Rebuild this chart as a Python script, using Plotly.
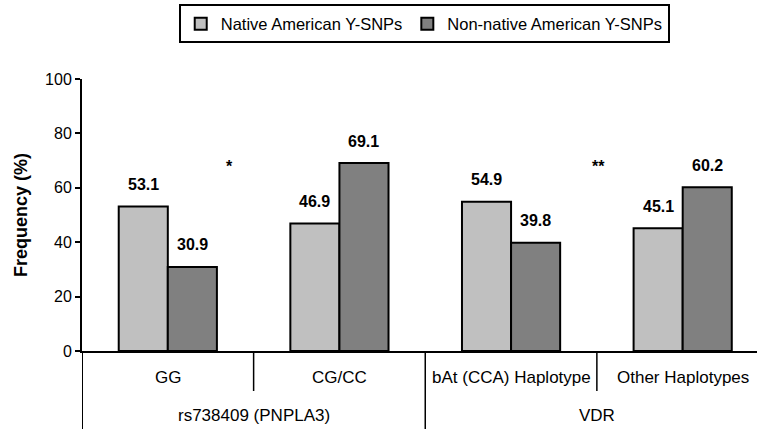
import plotly.graph_objects as go

# Genotype / haplotype groups and their parent markers
categories = ["GG", "CG/CC", "bAt (CCA) Haplotype", "Other Haplotypes"]
groups = ["rs738409 (PNPLA3)", "VDR"]
group_spans = [(0, 1), (2, 3)]  # category indices covered by each group

native = [53.1, 46.9, 54.9, 45.1]
non_native = [30.9, 69.1, 39.8, 60.2]

series_names = ["Native American Y-SNPs", "Non-native American Y-SNPs"]
series_colors = ["#c0c0c0", "#808080"]

# significance markers: (x position in category units, label)
significance = [(0.36, "*"), (2.51, "**")]

y_ticks = [0, 20, 40, 60, 80, 100]

FONT = "Liberation Sans, Arial, sans-serif"
BARGAP = 0.428
bar_w = (1 - BARGAP) / 2

xs = list(range(len(categories)))

fig = go.Figure()
for name, vals, col in zip(series_names, [native, non_native], series_colors):
    fig.add_trace(go.Bar(
        x=xs, y=vals, name=name,
        marker=dict(color=col, line=dict(color="black", width=2)),
    ))

annotations = []
# value labels above bars
for k, vals in enumerate([native, non_native]):
    off = (k - 0.5) * bar_w
    for i, v in enumerate(vals):
        annotations.append(dict(
            x=i + off, y=v, xref="x", yref="y", text=f"<b>{v:.1f}</b>",
            showarrow=False, yanchor="middle", yshift=22,
            font=dict(family=FONT, size=16, color="black"),
        ))

# significance asterisks
for sx, s in significance:
    annotations.append(dict(
        x=sx, y=68, xref="x", yref="y", text=f"<b>{s}</b>", showarrow=False,
        yanchor="middle", font=dict(family=FONT, size=16, color="black"),
    ))

# first category row
for i, c in enumerate(categories):
    annotations.append(dict(
        x=i, y=-0.096, xref="x", yref="paper", text=c, showarrow=False,
        yanchor="middle", font=dict(family=FONT, size=17, color="black"),
    ))

# second category row
for g, (a, b) in zip(groups, group_spans):
    annotations.append(dict(
        x=(a + b) / 2, y=-0.237, xref="x", yref="paper", text=g, showarrow=False,
        yanchor="middle", font=dict(family=FONT, size=17, color="black"),
    ))

shapes = []
# separators between categories inside a group (short)
for a, b in group_spans:
    for i in range(a, b):
        shapes.append(dict(type="line", xref="x", yref="paper",
                           x0=i + 0.5, x1=i + 0.5, y0=0, y1=-0.147,
                           line=dict(color="black", width=1.5)))
# separators between groups (full height)
for a, b in group_spans[:-1]:
    shapes.append(dict(type="line", xref="x", yref="paper",
                       x0=b + 0.5, x1=b + 0.5, y0=0, y1=-0.3,
                       line=dict(color="black", width=1.5)))
# left border of the category table, continuing the y axis
shapes.append(dict(type="line", xref="x", yref="paper",
                   x0=-0.5, x1=-0.5, y0=0, y1=-0.3,
                   line=dict(color="black", width=2)))

fig.update_layout(
    width=757, height=429,
    margin=dict(l=82, r=0, t=79, b=78),
    paper_bgcolor="white", plot_bgcolor="white",
    barmode="group", bargap=BARGAP, bargroupgap=0,
    font=dict(family=FONT, size=16, color="black"),
    showlegend=True,
    legend=dict(
        orientation="h", x=0.507, xanchor="center", y=1.274, yanchor="top",
        bordercolor="black", borderwidth=2, bgcolor="white",
        font=dict(family=FONT, size=16.5, color="black"),
        itemwidth=30, traceorder="normal",
    ),
    xaxis=dict(
        range=[-0.5, 3.433], showticklabels=False, ticks="",
        showline=True, linecolor="black", linewidth=2,
        showgrid=False, zeroline=False, fixedrange=True,
    ),
    yaxis=dict(
        range=[0, 100], tickvals=y_ticks, ticks="outside", ticklen=5,
        tickwidth=1.5, tickcolor="black",
        showline=True, linecolor="black", linewidth=2,
        showgrid=False, zeroline=False,
        tickfont=dict(family=FONT, size=16, color="black"),
        title=dict(text="<b>Frequency (%)</b>", standoff=13,
                   font=dict(family=FONT, size=18, color="black")),
    ),
    annotations=annotations,
    shapes=shapes,
)

fig.write_html("out.html")
